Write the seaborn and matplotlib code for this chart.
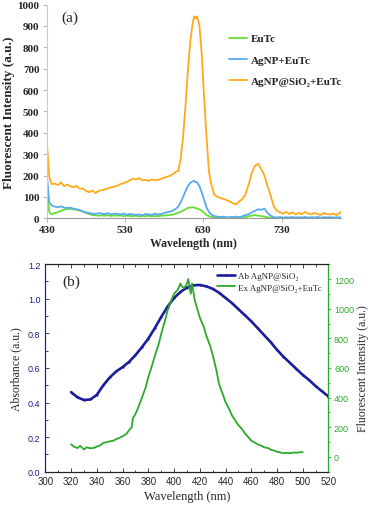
import numpy as np
import pandas as pd
import matplotlib
matplotlib.use('Agg')
import matplotlib.pyplot as plt
import seaborn as sns

# ---- data (a): emission spectra ----
wl_a = [430, 431, 433, 436, 440, 444, 448, 452, 456, 460,
        464, 468, 472, 476, 480, 484, 488, 492, 496, 500,
        504, 508, 512, 516, 520, 524, 528, 532, 536, 540,
        544, 548, 552, 556, 560, 564, 568, 572, 576, 580,
        584, 588, 592, 595, 598, 601, 604, 607, 610, 613,
        616, 618, 620, 622, 625, 628, 631, 634, 637, 640,
        644, 648, 652, 656, 660, 664, 668, 672, 676, 680,
        684, 688, 692, 696, 700, 704, 708, 712, 716, 720,
        724, 728, 732, 736, 740, 744, 748, 752, 756, 760,
        764, 768, 772, 776, 780, 784, 788, 792, 796, 800,
        804, 806]
eutc = [135, 95, 30, 18, 25, 28, 35, 40, 44, 45,
        42, 40, 36, 32, 25, 20, 15, 14, 12, 14,
        12, 14, 11, 13, 12, 14, 10, 12, 11, 10,
        12, 9, 11, 10, 12, 9, 11, 10, 12, 13,
        14, 16, 18, 22, 26, 30, 36, 42, 48, 50,
        52, 50, 48, 46, 42, 35, 25, 15, 10, 6,
        4, 3, 5, 3, 4, 2, 4, 3, 5, 4,
        6, 10, 12, 15, 12, 10, 8, 4, 2, 1,
        0, 1, 0, 1, 0, 0, 1, 0, 0, 1,
        0, 1, 0, 0, 1, 0, 0, 1, 0, 0,
        1, 0]
agnp_eutc = [205, 160, 75, 60, 55, 52, 56, 50, 48, 50,
             45, 42, 38, 32, 28, 24, 22, 20, 24, 22,
             20, 24, 18, 22, 20, 18, 22, 16, 20, 18,
             16, 18, 14, 20, 18, 15, 22, 18, 20, 25,
             28, 32, 38, 45, 55, 75, 100, 125, 150, 165,
             172, 175, 170, 168, 150, 120, 85, 50, 30, 18,
             10, 8, 5, 8, 4, 6, 5, 8, 4, 10,
             15, 20, 28, 35, 42, 40, 45, 25, 12, 5,
             4, 6, 3, 5, 4, 6, 3, 5, 4, 6,
             3, 5, 4, 6, 3, 5, 4, 5, 3, 5,
             4, 5]
agnp_sio2_eutc = [350, 300, 195, 160, 162, 155, 168, 150, 158, 150,
                  145, 152, 138, 140, 128, 122, 130, 118, 128, 132,
                  135, 140, 145, 148, 152, 160, 165, 170, 178, 185,
                  182, 188, 178, 180, 175, 182, 178, 180, 185, 190,
                  195, 200, 210, 218, 222, 280, 380, 520, 680, 820,
                  905, 945, 935, 945, 900, 760, 560, 380, 220, 160,
                  110, 100, 95, 90, 85, 78, 70, 65, 80, 90,
                  115, 160, 215, 245, 255, 230, 200, 150, 105, 55,
                  35, 28, 22, 30, 20, 28, 18, 25, 20, 30,
                  22, 18, 25, 20, 15, 25, 20, 18, 22, 15,
                  25, 30]
labels_a = ['EuTc', 'AgNP+EuTc', 'AgNP@SiO₂+EuTc']
colors_a = ['#66dd33', '#55aaf0', '#ffaa1a']

# ---- data (b): absorbance and excitation ----
ab_wl = list(range(320, 521, 5))
ab = [0.46, 0.43, 0.415, 0.418, 0.445, 0.50, 0.545, 0.58, 0.605, 0.635,
      0.675, 0.72, 0.77, 0.83, 0.895, 0.955, 1.005, 1.04, 1.065, 1.078,
      1.08, 1.072, 1.058, 1.035, 1.005, 0.975, 0.94, 0.905, 0.87, 0.83,
      0.79, 0.75, 0.705, 0.665, 0.63, 0.595, 0.56, 0.53, 0.495, 0.465,
      0.435]
ex_wl = [320, 322, 325, 327, 330, 332, 335, 338, 340, 343,
         345, 348, 350, 353, 355, 358, 360, 363, 365, 367,
         368, 370, 372, 375, 378, 380, 383, 385, 388, 390,
         393, 395, 398, 400, 403, 405, 406, 408, 410, 411,
         412, 413, 414, 416, 418, 420, 423, 425, 428, 430,
         433, 435, 438, 440, 443, 445, 448, 450, 453, 455,
         458, 460, 463, 465, 468, 470, 473, 475, 478, 480,
         483, 485, 488, 490, 493, 495, 498, 500]
ex = [85, 70, 60, 75, 50, 65, 58, 62, 70, 80,
      95, 100, 105, 110, 120, 130, 140, 155, 180, 200,
      260, 290, 330, 400, 470, 540, 620, 680, 760, 830,
      920, 990, 1060, 1100, 1130, 1170, 1150, 1140, 1170, 1200,
      1150, 1100, 1170, 1060, 1000, 940, 880, 820, 750, 690,
      580, 490, 420, 370, 320, 280, 240, 215, 185, 160,
      130, 110, 95, 85, 75, 65, 60, 50, 42, 35,
      30, 25, 28, 25, 30, 28, 32, 32]

sns.set_style('ticks')
plt.rcParams['font.family'] = ['Liberation Serif', 'DejaVu Serif']

fig = plt.figure(figsize=(3.72, 5.10), dpi=100)

# ---------- panel (a) ----------
ax1 = fig.add_axes([0.125, 0.570, 0.792, 0.419])
df_a = pd.DataFrame({'wl': wl_a, 'EuTc': eutc, 'AgNP+EuTc': agnp_eutc,
                     'AgNP@SiO₂+EuTc': agnp_sio2_eutc})
for lab, col in zip(labels_a, colors_a):
    sns.lineplot(data=df_a, x='wl', y=lab, ax=ax1, color=col, lw=1.3, label=lab)
ax1.set_xlim(429.5, 806)
ax1.set_ylim(0, 1000)
ax1.set_xticks([430, 530, 630, 730])
ax1.set_yticks(range(0, 1001, 100))
for s in ['top', 'right']:
    ax1.spines[s].set_visible(False)
ax1.spines['left'].set_color('#cccccc')
ax1.spines['bottom'].set_color('#999999')
ax1.tick_params(length=3, width=0.6, color='#aaaaaa', labelsize=8, pad=2)
for t in ax1.get_xticklabels() + ax1.get_yticklabels():
    t.set_fontweight('bold')
ax1.set_xlabel('Wavelength (nm)', fontsize=8.5, fontweight='bold', labelpad=2)
ax1.set_ylabel('Fluorescent Intensity (a.u.)', fontsize=9.5, fontweight='bold', labelpad=2)
ax1.text(0.05, 0.94, '(a)', transform=ax1.transAxes, fontsize=11, va='center')
ax1.legend(loc='upper left', bbox_to_anchor=(0.6, 0.89), frameon=False,
           prop={'weight': 'bold', 'size': 8}, labelspacing=1.05,
           handlelength=1.6, handletextpad=0.4, borderpad=0)

# ---------- panel (b) ----------
blue = '#1c1c9c'
green = '#2aaa2a'
ax2 = fig.add_axes([0.122, 0.073, 0.761, 0.407])
ax3 = ax2.twinx()
sns.lineplot(x=ab_wl, y=ab, ax=ax2, color=blue, lw=1.9, marker='o', markersize=1.6,
             markeredgewidth=0, label='Ab AgNP@SiO₂', legend=False)
sns.lineplot(x=ex_wl, y=ex, ax=ax3, color=green, lw=1.3,
             label='Ex AgNP@SiO₂+EuTc', legend=False)
ax2.set_xlim(300, 520)
ax2.set_ylim(0, 1.2)
ax3.set_ylim(-100, 1300)
ax2.set_xticks(range(300, 521, 20))
ax2.set_xticks(range(300, 521, 10), minor=True)
ax2.set_yticks(np.arange(0, 1.21, 0.2))
ax2.set_yticks(np.arange(0, 1.21, 0.1), minor=True)
ax3.set_yticks(range(0, 1201, 200))
ax3.set_yticks(range(-100, 1301, 100), minor=True)
ax2.yaxis.set_major_formatter(matplotlib.ticker.FormatStrFormatter('%.1f'))

for a in (ax2, ax3):
    for t in a.get_xticklabels() + a.get_yticklabels():
        t.set_family(['Liberation Sans', 'DejaVu Sans'])
ax2.tick_params(axis='x', which='both', direction='in', top=True, labelsize=7, pad=3, width=0.6)
ax2.tick_params(axis='x', which='major', length=3)
ax2.tick_params(axis='x', which='minor', length=1.8)
ax2.tick_params(axis='y', which='both', direction='in', colors=blue, labelsize=6.5, width=0.6)
ax2.tick_params(axis='y', which='major', length=3)
ax2.tick_params(axis='y', which='minor', length=1.8)
ax3.tick_params(axis='y', which='both', direction='out', colors=green, labelsize=6.5,
                width=0.6, pad=1.5)
ax3.tick_params(axis='y', which='major', length=2.5)
ax3.tick_params(axis='y', which='minor', length=1.5)
ax2.spines['left'].set_color(blue)
ax3.spines['left'].set_color(blue)
ax3.spines['right'].set_color(green)
for a in (ax2, ax3):
    for s in ['top', 'bottom']:
        a.spines[s].set_color('#222222')
        a.spines[s].set_linewidth(0.8)

ax2.set_xlabel('Wavelength (nm)', fontsize=9, labelpad=3)
ax2.set_ylabel('Absorbance (a.u.)', fontsize=8.5, labelpad=4)
ax3.set_ylabel('Fluorescent Intensity (a.u.)', fontsize=8.5, labelpad=2)
ax2.text(0.06, 0.92, '(b)', transform=ax2.transAxes, fontsize=11, va='center')

h2, l2 = ax2.get_legend_handles_labels()
h3, l3 = ax3.get_legend_handles_labels()
ax3.legend(h2 + h3, l2 + l3, loc='upper left', bbox_to_anchor=(0.59, 0.985),
           frameon=False, fontsize=6.5, labelspacing=0.35, handlelength=2.0,
           handletextpad=0.3, borderpad=0)

fig.savefig('out.png', dpi=100)
